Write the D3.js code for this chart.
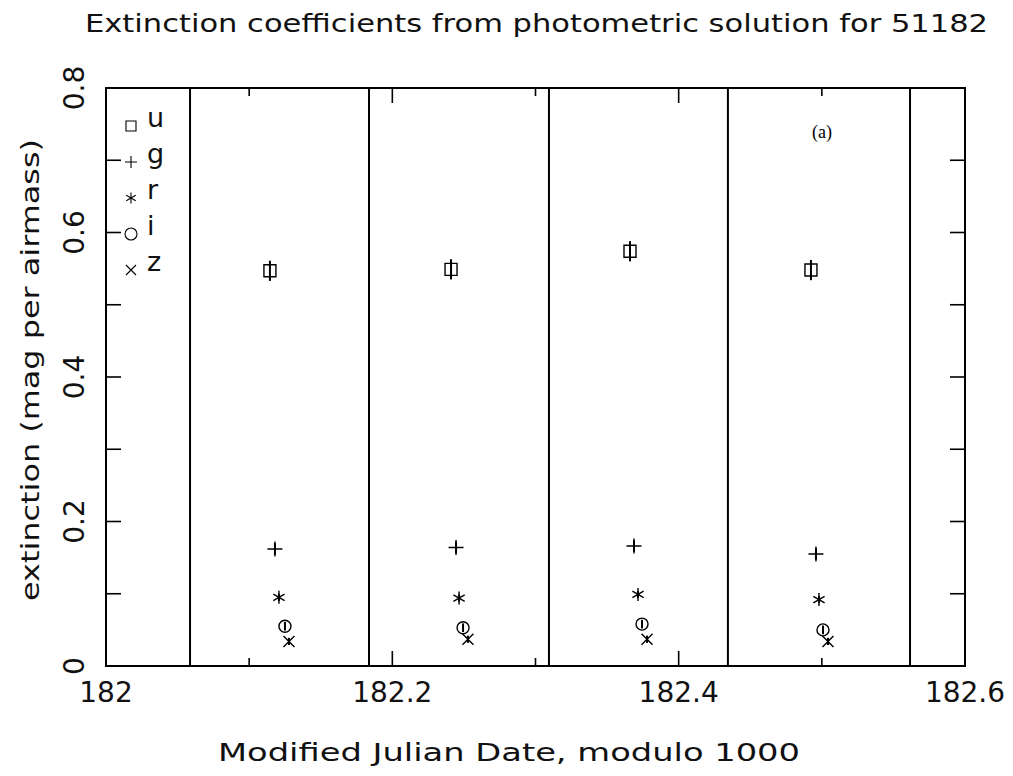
<!DOCTYPE html>
<html><head><meta charset="utf-8">
<script src="https://cdn.jsdelivr.net/npm/d3@7"></script>
<style>body{margin:0;background:#fff;} svg{display:block;}</style>
</head><body>
<svg id="c" width="1013" height="776"></svg>
<script>
// ---- data ----
const filters = ["u","g","r","i","z"];
const uTime = [182.1145, 182.2410, 182.3660, 182.4924];
const gTime = [182.1180, 182.2445, 182.3688, 182.4959];
const rTime = [182.1208, 182.2466, 182.3716, 182.4980];
const iTime = [182.1250, 182.2494, 182.3744, 182.5008];
const zTime = [182.1278, 182.2528, 182.3779, 182.5043];
const uExt = [0.547, 0.549, 0.574, 0.548];
const gExt = [0.162, 0.164, 0.166, 0.155];
const rExt = [0.095, 0.094, 0.099, 0.092];
const iExt = [0.055, 0.053, 0.058, 0.050];
const zExt = [0.034, 0.037, 0.037, 0.034];
const uErr = [0.014, 0.014, 0.014, 0.014];
const gErr = [0.008, 0.008, 0.008, 0.008];
const rErr = [0.005, 0.005, 0.005, 0.005];
const iErr = [0.006, 0.006, 0.006, 0.006];
const zErr = [0.005, 0.005, 0.005, 0.005];
const dividers = [182.0587, 182.1837, 182.3094, 182.4344, 182.5616];
const xMajorTicks = [182, 182.2, 182.4, 182.6];
const xMinorTicks = [182.1, 182.3, 182.5];
const yTicks = [0, 0.1, 0.2, 0.3, 0.4, 0.5, 0.6, 0.7, 0.8];
const yTickLabels = ["0", "0.2", "0.4", "0.6", "0.8"];
const yLabelValues = [0, 0.2, 0.4, 0.6, 0.8];
const xTickLabels = ["182", "182.2", "182.4", "182.6"];
const titleText = "Extinction coefficients from photometric solution for 51182";
const xTitle = "Modified Julian Date, modulo 1000";
const yTitle = "extinction (mag per airmass)";
const panelTag = "(a)";

const series = [
  {f:"u", t:uTime, v:uExt, e:uErr},
  {f:"g", t:gTime, v:gExt, e:gErr},
  {f:"r", t:rTime, v:rExt, e:rErr},
  {f:"i", t:iTime, v:iExt, e:iErr},
  {f:"z", t:zTime, v:zExt, e:zErr}
];

// ---- layout ----
const L = 106, R = 965, T = 88, B = 666;
const x = d3.scaleLinear().domain([182, 182.6]).range([L, R]);
const y = d3.scaleLinear().domain([0, 0.8]).range([B, T]);
const svg = d3.select("#c");
const FONT = "'DejaVu Sans', Verdana, sans-serif";

// marker paths
function markerPath(f, s) {
  const p = d3.path();
  if (f === "u") { p.rect(-s, -s, 2*s, 2*s); }
  else if (f === "g") { p.moveTo(-s,0); p.lineTo(s,0); p.moveTo(0,-s); p.lineTo(0,s); }
  else if (f === "r") {
    p.moveTo(0,-s); p.lineTo(0,s);
    const a = s*Math.cos(Math.PI/6), b = s*Math.sin(Math.PI/6);
    p.moveTo(-a,-b); p.lineTo(a,b); p.moveTo(-a,b); p.lineTo(a,-b);
  }
  else if (f === "i") { p.moveTo(s,0); p.arc(0,0,s,0,2*Math.PI); }
  else if (f === "z") { p.moveTo(-s,-s); p.lineTo(s,s); p.moveTo(-s,s); p.lineTo(s,-s); }
  return p.toString();
}
const markSize = {u:6, g:7.5, r:6.5, i:6, z:5.5};
const legSize = {u:5, g:6, r:5.5, i:6, z:5};

// frame
svg.append("rect").attr("x", L).attr("y", T).attr("width", R-L).attr("height", B-T)
  .attr("fill","none").attr("stroke","#000").attr("stroke-width",2);

// dividers
svg.append("g").selectAll("line").data(dividers).join("line")
  .attr("x1", d=>x(d)).attr("x2", d=>x(d)).attr("y1", T).attr("y2", B)
  .attr("stroke","#000").attr("stroke-width",2);

// ticks
const tg = svg.append("g").attr("stroke","#000").attr("stroke-width",1.6);
yTicks.forEach(v => {
  tg.append("line").attr("x1", L).attr("x2", L+15).attr("y1", y(v)).attr("y2", y(v));
  tg.append("line").attr("x1", R-15).attr("x2", R).attr("y1", y(v)).attr("y2", y(v));
});
xMajorTicks.forEach(v => {
  tg.append("line").attr("x1", x(v)).attr("x2", x(v)).attr("y1", B).attr("y2", B-15);
  tg.append("line").attr("x1", x(v)).attr("x2", x(v)).attr("y1", T).attr("y2", T+15);
});
xMinorTicks.forEach(v => {
  tg.append("line").attr("x1", x(v)).attr("x2", x(v)).attr("y1", B).attr("y2", B-8);
  tg.append("line").attr("x1", x(v)).attr("x2", x(v)).attr("y1", T).attr("y2", T+8);
});

// tick labels
svg.append("g").selectAll("text").data(xTickLabels).join("text")
  .attr("x", (d,i)=>x(xMajorTicks[i])).attr("y", 702)
  .attr("text-anchor","middle").attr("font-family",FONT).attr("font-size",28)
  .attr("fill","#111").text(d=>d);
svg.append("g").selectAll("text").data(yTickLabels).join("text")
  .attr("transform", (d,i)=>`translate(84,${y(yLabelValues[i])}) rotate(-90)`)
  .attr("text-anchor","middle").attr("font-family",FONT).attr("font-size",28)
  .attr("fill","#111").text(d=>d);

// titles
svg.append("text").attr("x", 85).attr("y", 32).attr("font-family",FONT).attr("font-size",25)
  .attr("textLength", 903).attr("lengthAdjust","spacingAndGlyphs").attr("fill","#111").text(titleText);
svg.append("text").attr("x", 218).attr("y", 761).attr("font-family",FONT).attr("font-size",25)
  .attr("textLength", 582).attr("lengthAdjust","spacingAndGlyphs").attr("fill","#111").text(xTitle);
svg.append("text").attr("transform","translate(39,601) rotate(-90)").attr("font-family",FONT).attr("font-size",25)
  .attr("textLength", 462).attr("lengthAdjust","spacingAndGlyphs").attr("fill","#111").text(yTitle);
svg.append("text").attr("x", 822).attr("y", 138).attr("text-anchor","middle")
  .attr("font-family","'Liberation Serif', 'Times New Roman', serif").attr("font-size",18).text(panelTag);

// data
const dg = svg.append("g").attr("fill","none").attr("stroke","#000");
series.forEach(s => {
  s.v.forEach((v, k) => {
    const cx = x(s.t[k]), cy = y(v);
    dg.append("line").attr("x1",cx).attr("x2",cx).attr("y1",y(v - s.e[k])).attr("y2",y(v + s.e[k]))
      .attr("stroke-width",2);
    dg.append("path").attr("d", markerPath(s.f, markSize[s.f]))
      .attr("transform",`translate(${cx},${cy})`).attr("stroke-width",1.4);
  });
});

// legend
const lg = svg.append("g");
filters.forEach((f, k) => {
  const yy = 126 + k*36;
  lg.append("path").attr("d", markerPath(f, legSize[f])).attr("transform",`translate(131,${yy})`)
    .attr("fill","none").attr("stroke","#000").attr("stroke-width",1.1);
  lg.append("text").attr("x", 147).attr("y", yy+1).attr("font-family",FONT).attr("font-size",27)
    .attr("fill","#111").text(f);
});
</script>
</body></html>
